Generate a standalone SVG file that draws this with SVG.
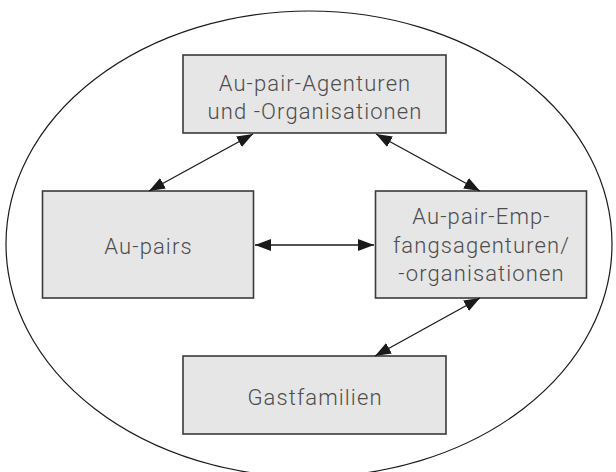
<svg xmlns="http://www.w3.org/2000/svg" width="616" height="472" viewBox="0 0 616 472">
<defs>
<marker id="ah" viewBox="0 0 16 12" refX="16" refY="6" markerWidth="16" markerHeight="12" markerUnits="userSpaceOnUse" orient="auto-start-reverse">
<path d="M0,0 L16,6 L0,12 Z" fill="#1a1a1a"/>
</marker>
<style>
.box{fill:#e6e6e7;stroke:#3a3a3a;stroke-width:1.6}
.t{font-family:Roboto,"Liberation Sans",sans-serif;font-weight:300;font-size:22px;letter-spacing:1.1px;fill:#4d4d4d;text-anchor:middle}
.c{stroke:#1a1a1a;stroke-width:1.3;fill:none;marker-start:url(#ah);marker-end:url(#ah)}
</style>
</defs>
<rect width="616" height="472" fill="#ffffff"/>
<ellipse cx="309" cy="244" rx="303" ry="233" fill="none" stroke="#1a1a1a" stroke-width="1.2"/>
<g id="agenturen">
<rect class="box" x="183" y="55" width="263" height="78"/>
<text class="t" x="315" y="91">Au-pair-Agenturen</text>
<text class="t" x="315" y="118.5">und -Organisationen</text>
</g>
<g id="aupairs">
<rect class="box" x="42.5" y="191" width="211" height="107"/>
<text class="t" x="148.5" y="254">Au-pairs</text>
</g>
<g id="empfang">
<rect class="box" x="375.5" y="191" width="211" height="107"/>
<text class="t" x="481.5" y="224">Au-pair-Emp-</text>
<text class="t" x="481.5" y="253">fangsagenturen/</text>
<text class="t" x="481.5" y="281">-organisationen</text>
</g>
<g id="gastfamilien">
<rect class="box" x="183" y="356" width="263" height="78"/>
<text class="t" x="315" y="405">Gastfamilien</text>
</g>
<g id="connectors">
<line class="c" x1="253" y1="134" x2="149" y2="191"/>
<line class="c" x1="376" y1="134" x2="480" y2="191"/>
<line class="c" x1="255" y1="245" x2="374" y2="245"/>
<line class="c" x1="480" y1="298" x2="375" y2="356"/>
</g>
</svg>
